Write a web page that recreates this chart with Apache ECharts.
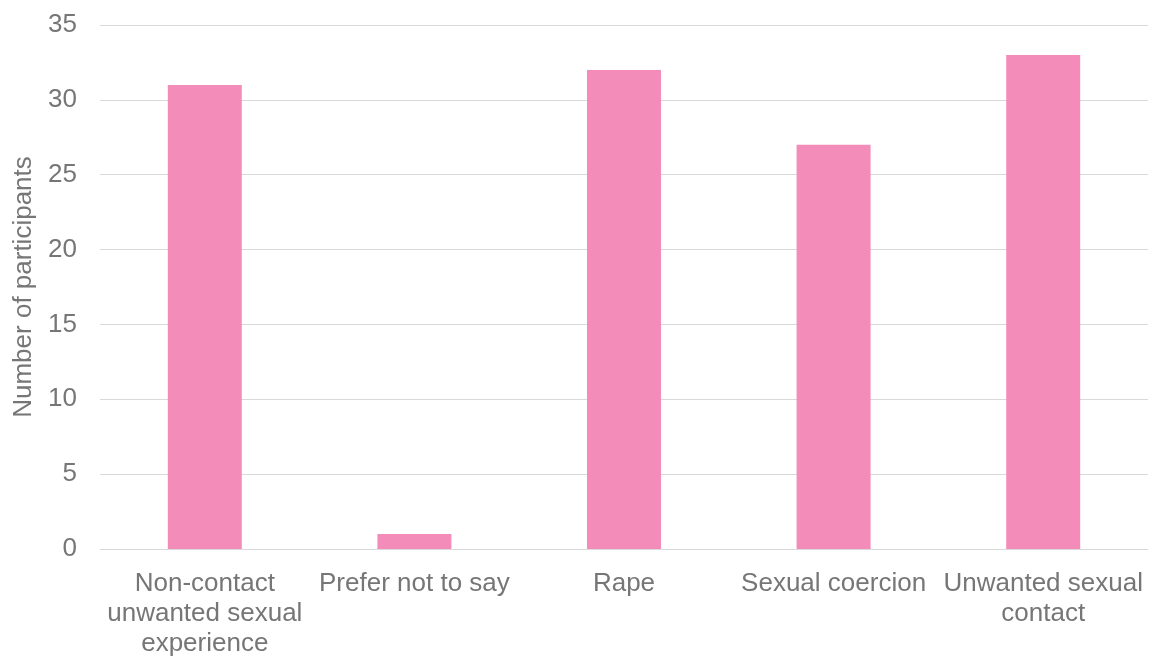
<!DOCTYPE html>
<html><head><meta charset="utf-8">
<script src="https://cdn.jsdelivr.net/npm/echarts@6/dist/echarts.min.js"></script>
<style>html,body{margin:0;padding:0;background:#fff}#c{width:1152px;height:659px}</style>
</head><body><div id="c"></div>
<script>
const categories = ["Non-contact\nunwanted sexual\nexperience", "Prefer not to say", "Rape", "Sexual coercion", "Unwanted sexual\ncontact"];
const values = [31, 1, 32, 27, 33];
const yAxisName = "Number of participants";
const chart = echarts.init(document.getElementById('c'));
const font = 'Liberation Sans, Arial';
chart.setOption({
  animation: false,
  grid: {left: 100, right: 4, top: 25, bottom: 106},
  xAxis: {
    type: 'category', data: categories,
    axisTick: {show: false},
    axisLine: {lineStyle: {color: '#d9d9d9', width: 1}},
    axisLabel: {color: '#767676', fontSize: 26, fontFamily: font, lineHeight: 30, margin: 20, interval: 0}
  },
  yAxis: {
    type: 'value', min: 0, max: 35, interval: 5,
    name: yAxisName, nameLocation: 'middle', nameGap: 63,
    nameTextStyle: {color: '#767676', fontSize: 26, fontFamily: font},
    axisLabel: {color: '#767676', fontSize: 26, fontFamily: font, margin: 23},
    splitLine: {lineStyle: {color: '#d9d9d9', width: 1}},
    axisLine: {show: false}, axisTick: {show: false}
  },
  series: [{type: 'bar', data: values, barWidth: 74, itemStyle: {color: '#F48CB9'}}]
});
</script></body></html>
